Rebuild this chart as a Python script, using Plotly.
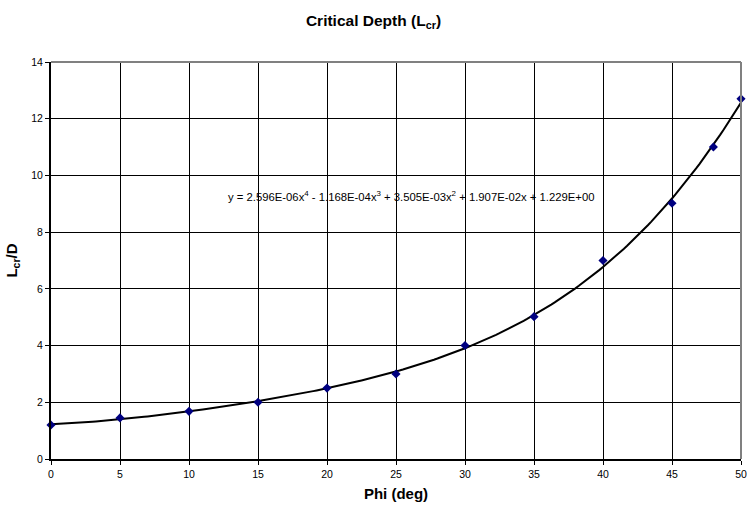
import numpy as np
import plotly.graph_objects as go

phi = [0, 5, 10, 15, 20, 25, 30, 35, 40, 45, 48, 50]
lcr_d = [1.2, 1.45, 1.68, 2.0, 2.5, 3.0, 4.0, 5.02, 7.0, 9.02, 11.0, 12.7]
# polynomial trendline coefficients as printed on the chart (x^4 .. x^0)
coef = [2.596e-06, -1.168e-04, 3.505e-03, 1.907e-02, 1.229e+00]
x_ticks = [0, 5, 10, 15, 20, 25, 30, 35, 40, 45, 50]
y_ticks = [0, 2, 4, 6, 8, 10, 12, 14]

xf = np.linspace(0, 50, 201)
yf = np.polyval(coef, xf)

font = "Liberation Sans, Arial, sans-serif"
fig = go.Figure()
fig.add_trace(go.Scatter(x=xf, y=yf, mode="lines", line=dict(color="black", width=2),
                         hoverinfo="skip", showlegend=False))
fig.add_trace(go.Scatter(x=phi, y=lcr_d, mode="markers",
                         marker=dict(symbol="diamond", size=7, color="#000080"),
                         showlegend=False, cliponaxis=False))

fig.add_annotation(x=26.1, y=9.27, xref="x", yref="y", showarrow=False,
                   text="y = 2.596E-06x<sup>4</sup> - 1.168E-04x<sup>3</sup> + 3.505E-03x<sup>2</sup> + 1.907E-02x + 1.229E+00",
                   font=dict(family=font, size=11.3, color="black"))

fig.update_layout(
    width=747, height=513,
    margin=dict(l=51, r=6, t=62, b=54),
    paper_bgcolor="white", plot_bgcolor="white",
    title=dict(text="<b>Critical Depth (L<sub>cr</sub>)</b>", x=0.5, xanchor="center",
               y=0.96, yanchor="middle", font=dict(family=font, size=15.5, color="black")),
    font=dict(family=font, size=10.5, color="black"),
)
fig.update_xaxes(range=[0, 50], tickmode="array", tickvals=x_ticks,
                 ticktext=[str(v) for v in x_ticks], ticklabeloverflow="allow", automargin=False,
                 showgrid=True, gridcolor="black", gridwidth=1,
                 showline=True, linecolor="black", linewidth=2, ticks="outside", ticklen=4,
                 tickcolor="black", zeroline=False, mirror=False,
                 title=dict(text="<b>Phi (deg)</b>", font=dict(family=font, size=15), standoff=10))
fig.update_yaxes(range=[0, 14], tickmode="array", tickvals=y_ticks, automargin=False,
                 showgrid=True, gridcolor="black", gridwidth=1,
                 showline=True, linecolor="black", linewidth=2, ticks="outside", ticklen=4,
                 tickcolor="black", zeroline=False,
                 title=dict(text="<b>L<sub>cr</sub>/D</b>", font=dict(family=font, size=15), standoff=10))
# gray top and right border
fig.add_shape(type="line", xref="paper", yref="paper", x0=0, x1=1, y0=1, y1=1,
              line=dict(color="#808080", width=2))
fig.add_shape(type="line", xref="paper", yref="paper", x0=1, x1=1, y0=0, y1=1,
              line=dict(color="#808080", width=2))

fig.write_html("out.html")
